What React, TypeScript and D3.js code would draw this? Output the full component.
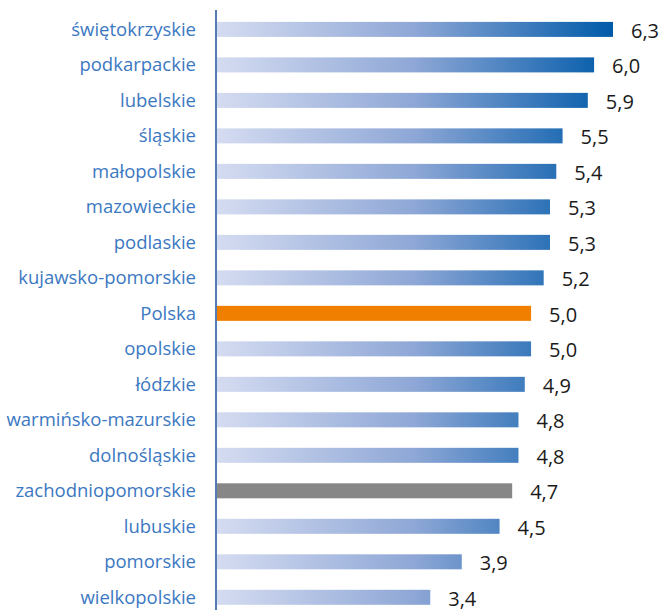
import React, { useEffect, useRef } from "react";
import * as d3 from "d3";

const regions = [
    "świętokrzyskie", "podkarpackie", "lubelskie", "śląskie", "małopolskie",
    "mazowieckie", "podlaskie", "kujawsko-pomorskie", "Polska", "opolskie",
    "łódzkie", "warmińsko-mazurskie", "dolnośląskie", "zachodniopomorskie",
    "lubuskie", "pomorskie", "wielkopolskie"
];
const values = [6.3, 6.0, 5.9, 5.5, 5.4, 5.3, 5.3, 5.2, 5.0, 5.0, 4.9, 4.8, 4.8, 4.7, 4.5, 3.9, 3.4];
const highlight: Record<string, string> = {
    "Polska": "#f07f00",
    "zachodniopomorskie": "#878787",
};

export default function App() {
    const svgRef = useRef(null);
    const width = 663;
    const height = 610;

    useEffect(() => {
        const axisX = 216;
        const svg = d3.select(svgRef.current)
            .attr("width", width)
            .attr("height", height)
            .style("position", "absolute")
            .style("left", 0)
            .style("top", 0);

        svg.selectAll("*").remove();

        const xScale = d3.scaleLinear()
            .domain([0, 6.3])
            .range([axisX, 613]);

        const yScale = d3.scaleBand()
            .domain(regions)
            .range([11.6, 11.6 + 35.5 * regions.length])
            .paddingInner(0.577)
            .paddingOuter(0.29);

        // gradient over the whole value range, so shorter bars stay lighter
        const grad = svg.append("defs").append("linearGradient")
            .attr("id", "barGrad")
            .attr("gradientUnits", "userSpaceOnUse")
            .attr("x1", xScale(0)).attr("x2", xScale(6.3))
            .attr("y1", 0).attr("y2", 0);
        grad.append("stop").attr("offset", "0%").attr("stop-color", "#d5dcf1");
        grad.append("stop").attr("offset", "50%").attr("stop-color", "#8ea7d6");
        grad.append("stop").attr("offset", "100%").attr("stop-color", "#005aa9");

        const data = regions.map((r, i) => ({ label: r, value: values[i] }));

        svg.selectAll(".bar")
            .data(data)
            .join("rect")
            .attr("class", "bar")
            .attr("x", xScale(0) + 1)
            .attr("y", d => yScale(d.label))
            .attr("width", d => xScale(d.value) - xScale(0) - 1)
            .attr("height", yScale.bandwidth())
            .attr("fill", d => highlight[d.label] || "url(#barGrad)");

        // category labels
        svg.selectAll(".cat")
            .data(data)
            .join("text")
            .attr("class", "cat")
            .attr("x", 196)
            .attr("y", d => yScale(d.label) + yScale.bandwidth() / 2)
            .attr("dy", "0.35em")
            .attr("text-anchor", "end")
            .style("font-family", "'Open Sans', sans-serif")
            .style("font-size", "18.5px")
            .attr("fill", "#3b78c2")
            .text(d => d.label);

        // value labels
        svg.selectAll(".val")
            .data(data)
            .join("text")
            .attr("class", "val")
            .attr("x", d => xScale(d.value) + 18)
            .attr("y", d => yScale(d.label) + yScale.bandwidth() / 2 + 1.5)
            .attr("dy", "0.35em")
            .style("font-family", "'Open Sans', sans-serif")
            .style("font-size", "20px")
            .attr("fill", "#1a1a1a")
            .text(d => d.value.toFixed(1).replace(".", ","));

        // vertical axis line
        svg.append("line")
            .attr("x1", axisX).attr("x2", axisX)
            .attr("y1", 10).attr("y2", height)
            .attr("stroke", "#1d4f98")
            .attr("stroke-width", 1.5);
    }, []);

    return <svg ref={svgRef} />;
}
